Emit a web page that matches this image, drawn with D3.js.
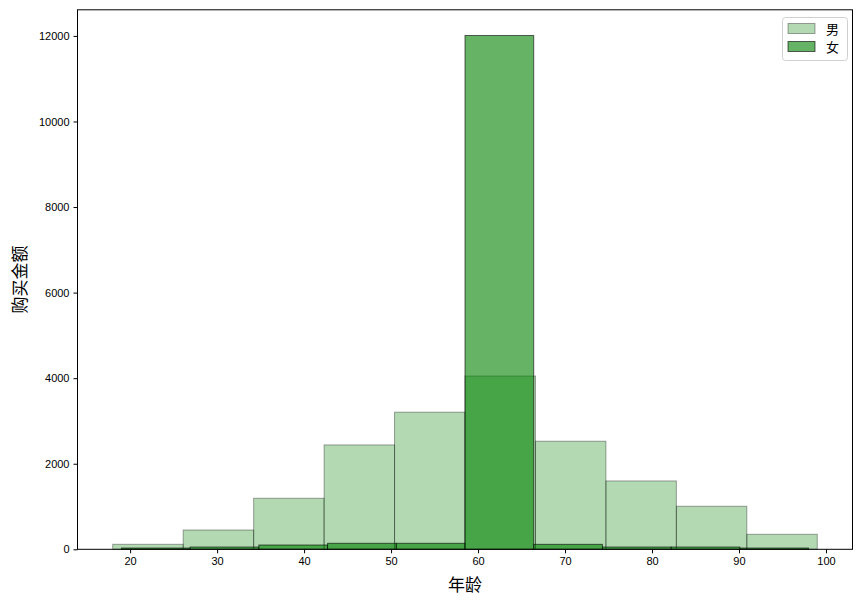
<!DOCTYPE html>
<html>
<head>
<meta charset="utf-8">
<script src="https://cdn.jsdelivr.net/npm/d3@7"></script>
<style>
  body { margin: 0; background: #fff; }
  text { font-family: "Liberation Sans", "Noto Sans CJK SC", sans-serif; }
  .cjk { font-family: "Noto Sans CJK SC", sans-serif; }
</style>
</head>
<body>
<svg id="chart" width="862" height="604"></svg>
<script>
// ---- data ----
const seriesNames = ["男", "女"];
const maleEdges   = [18, 26.1, 34.2, 42.3, 50.4, 58.5, 66.6, 74.7, 82.8, 90.9, 99];
const maleValues  = [117, 451, 1193, 2440, 3205, 4050, 2526, 1598, 1006, 351];
const femaleEdges = [19, 26.9, 34.8, 42.7, 50.6, 58.5, 66.4, 74.3, 82.2, 90.1, 98];
const femaleValues= [30, 53, 100, 140, 140, 12010, 116, 53, 53, 30];
const xTicks = [20, 30, 40, 50, 60, 70, 80, 90, 100];
const yTicks = [0, 2000, 4000, 6000, 8000, 10000, 12000];
const xLabel = "年龄";
const yLabel = "购买金额";

// ---- layout ----
const svg = d3.select("#chart");
const L = 77.5, R = 852.5, T = 9.8, B = 549.3;

const allEdges = maleEdges.concat(femaleEdges);
const xmin = d3.min(allEdges), xmax = d3.max(allEdges);
const xm = (xmax - xmin) * 0.05;
const x = d3.scaleLinear().domain([xmin - xm, xmax + xm]).range([L, R]);
const ymax = d3.max(maleValues.concat(femaleValues)) * 1.05;
const y = d3.scaleLinear().domain([0, ymax]).range([B, T]);

const green = "#008000";
function drawBars(edges, values, alpha, strokeAlpha) {
  const bins = values.map((v, i) => ({x0: edges[i], x1: edges[i + 1], v}));
  svg.append("g").selectAll("rect").data(bins).join("rect")
    .attr("x", d => x(d.x0))
    .attr("y", d => y(d.v))
    .attr("width", d => x(d.x1) - x(d.x0))
    .attr("height", d => y(0) - y(d.v))
    .attr("fill", green).attr("fill-opacity", alpha)
    .attr("stroke", "#000").attr("stroke-opacity", strokeAlpha)
    .attr("stroke-width", 1);
}
drawBars(maleEdges, maleValues, 0.3, 0.35);
drawBars(femaleEdges, femaleValues, 0.6, 0.6);

// frame
svg.append("rect").attr("x", L).attr("y", T).attr("width", R - L).attr("height", B - T)
  .attr("fill", "none").attr("stroke", "#000").attr("stroke-width", 1);

// axes
const xAxis = d3.axisBottom(x).tickValues(xTicks).tickSize(4).tickPadding(4).tickFormat(d3.format("d"));
const gx = svg.append("g").attr("transform", `translate(0,${B})`).call(xAxis);
gx.select(".domain").remove();
gx.selectAll("text").attr("font-size", 11).attr("fill", "#000");

const yAxis = d3.axisLeft(y).tickValues(yTicks).tickSize(4).tickPadding(4).tickFormat(d3.format("d"));
const gy = svg.append("g").attr("transform", `translate(${L},0)`).call(yAxis);
gy.select(".domain").remove();
gy.selectAll("text").attr("font-size", 11).attr("fill", "#000");

// axis labels
svg.append("text").attr("class", "cjk")
  .attr("x", (L + R) / 2).attr("y", 591)
  .attr("text-anchor", "middle").attr("font-size", 17).text(xLabel);
svg.append("text").attr("class", "cjk")
  .attr("transform", `translate(26,${(T + B) / 2}) rotate(-90)`)
  .attr("text-anchor", "middle").attr("font-size", 17).text(yLabel);

// legend
const lg = svg.append("g");
lg.append("rect").attr("x", 782.5).attr("y", 17.5).attr("width", 65).attr("height", 43)
  .attr("rx", 3).attr("fill", "#fff").attr("fill-opacity", 0.8)
  .attr("stroke", "#d0d0d0");
const legendStyle = [[0.3, 0.35], [0.6, 0.6]];
seriesNames.forEach((name, i) => {
  const yy = 23.5 + i * 18;
  lg.append("rect").attr("x", 788).attr("y", yy).attr("width", 27).attr("height", 10)
    .attr("fill", green).attr("fill-opacity", legendStyle[i][0])
    .attr("stroke", "#000").attr("stroke-opacity", legendStyle[i][1]);
  lg.append("text").attr("class", "cjk").attr("x", 826).attr("y", yy + 10)
    .attr("font-size", 13).text(name);
});
</script>
</body>
</html>
